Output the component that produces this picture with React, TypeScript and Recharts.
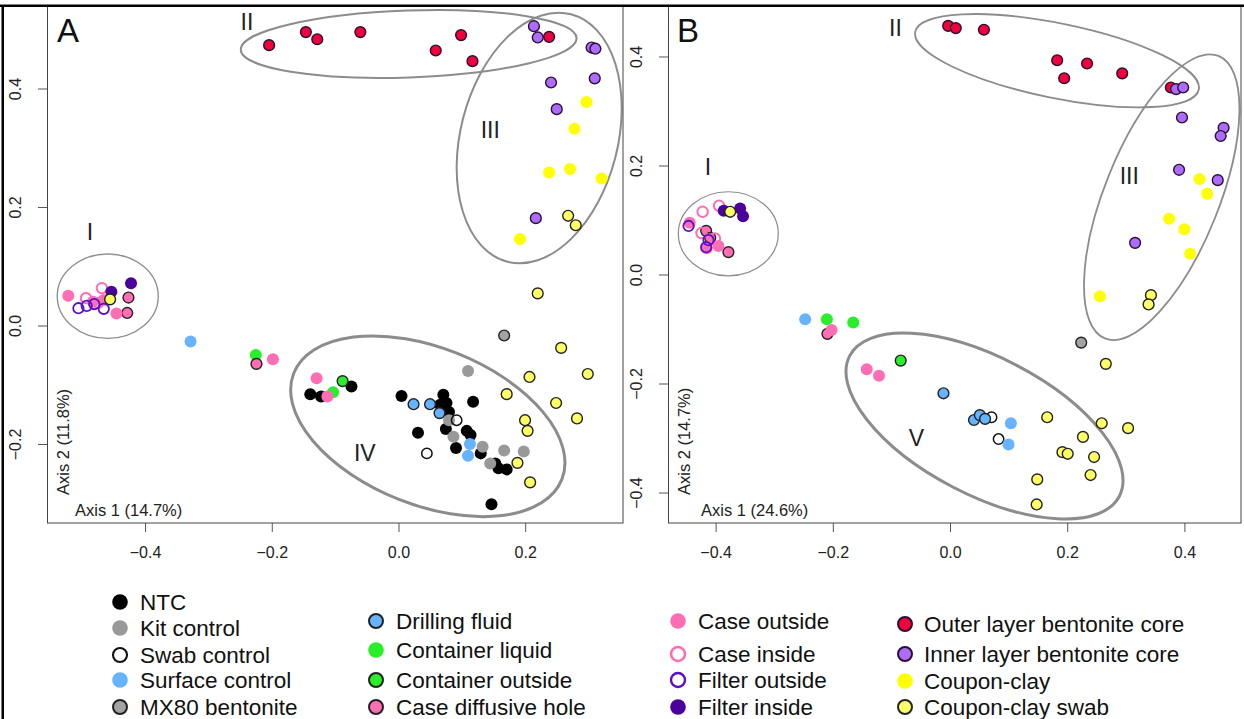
import React from "react";
import { ScatterChart, Scatter, XAxis, YAxis, ReferenceArea, ReferenceDot } from "recharts";

type Pt = [number, number];

// ---- Panel A: PCoA, Axis 1 (14.7%) x Axis 2 (11.8%) ----
const aNTC: Pt[] = [
  [-0.14, -0.115], [-0.123, -0.119], [-0.075, -0.102], [0.004, -0.118], [0.07, -0.116],
  [0.075, -0.13], [0.065, -0.133], [0.079, -0.145], [0.117, -0.128], [0.03, -0.18],
  [0.074, -0.174], [0.107, -0.177], [0.113, -0.184], [0.09, -0.206], [0.129, -0.215],
  [0.152, -0.232], [0.157, -0.24], [0.17, -0.242], [0.146, -0.301],
];
const aKit: Pt[] = [[0.109, -0.076], [0.079, -0.159], [0.086, -0.187], [0.132, -0.204], [0.166, -0.21], [0.197, -0.212], [0.144, -0.232]];
const aSwab: Pt[] = [[0.091, -0.159], [0.044, -0.215]];
const aSurface: Pt[] = [[-0.329, -0.026], [0.112, -0.199], [0.109, -0.219]];
const aMX80: Pt[] = [[0.166, -0.016]];
const aDrilling: Pt[] = [[0.023, -0.132], [0.049, -0.132], [0.064, -0.147]];
const aContLiquid: Pt[] = [[-0.226, -0.049], [-0.104, -0.112]];
const aContOutside: Pt[] = [[-0.089, -0.093]];
const aCaseHole: Pt[] = [[-0.225, -0.064], [-0.427, 0.048], [-0.429, 0.022]];
const aCaseOut: Pt[] = [[-0.199, -0.056], [-0.13, -0.088], [-0.113, -0.119], [-0.522, 0.051], [-0.483, 0.041], [-0.446, 0.021], [-0.466, 0.044]];
const aCaseIn: Pt[] = [[-0.469, 0.064], [-0.494, 0.047], [-0.475, 0.039]];
const aFilterOut: Pt[] = [[-0.506, 0.03], [-0.493, 0.034], [-0.481, 0.037], [-0.466, 0.029]];
const aFilterIn: Pt[] = [[-0.423, 0.072], [-0.454, 0.058]];
const aOuter: Pt[] = [[-0.205, 0.474], [-0.147, 0.496], [-0.129, 0.484], [-0.061, 0.496], [0.058, 0.465], [0.098, 0.491], [0.116, 0.447], [0.237, 0.488]];
const aInner: Pt[] = [[0.213, 0.506], [0.219, 0.487], [0.304, 0.47], [0.31, 0.468], [0.309, 0.418], [0.24, 0.411], [0.249, 0.366], [0.216, 0.182]];
const aCoupon: Pt[] = [[0.296, 0.378], [0.277, 0.333], [0.237, 0.259], [0.27, 0.265], [0.32, 0.249], [0.191, 0.147]];
const aCouponSwab: Pt[] = [
  [0.267, 0.186], [0.279, 0.17], [0.219, 0.055], [0.256, -0.037], [0.206, -0.086], [0.298, -0.081],
  [0.17, -0.115], [0.248, -0.13], [0.281, -0.156], [0.199, -0.159], [0.203, -0.177], [0.187, -0.231],
  [0.207, -0.264], [-0.456, 0.045],
];

// ---- Panel B: PCoA, Axis 1 (24.6%) x Axis 2 (14.7%) ----
const bSwab: Pt[] = [[0.07, -0.261], [0.082, -0.301]];
const bSurface: Pt[] = [[-0.248, -0.081], [0.103, -0.272], [0.099, -0.311]];
const bMX80: Pt[] = [[0.223, -0.124]];
const bDrilling: Pt[] = [[-0.012, -0.217], [0.04, -0.266], [0.05, -0.257], [0.059, -0.264]];
const bContLiquid: Pt[] = [[-0.211, -0.081], [-0.166, -0.087]];
const bContOutside: Pt[] = [[-0.085, -0.157]];
const bCaseHole: Pt[] = [[-0.21, -0.108], [-0.417, 0.081], [-0.41, 0.068], [-0.379, 0.042]];
const bCaseOut: Pt[] = [[-0.203, -0.101], [-0.143, -0.173], [-0.122, -0.185], [-0.445, 0.096], [-0.416, 0.049], [-0.396, 0.053]];
const bCaseIn: Pt[] = [[-0.423, 0.116], [-0.395, 0.127], [-0.425, 0.077], [-0.402, 0.067]];
const bFilterOut: Pt[] = [[-0.447, 0.09], [-0.413, 0.064], [-0.417, 0.051]];
const bFilterIn: Pt[] = [[-0.387, 0.118], [-0.359, 0.122], [-0.354, 0.108]];
const bOuter: Pt[] = [[-0.004, 0.457], [0.009, 0.453], [0.057, 0.45], [0.182, 0.394], [0.194, 0.361], [0.233, 0.388], [0.293, 0.37], [0.376, 0.344]];
const bInner: Pt[] = [[0.385, 0.341], [0.397, 0.344], [0.395, 0.289], [0.466, 0.27], [0.461, 0.255], [0.39, 0.193], [0.456, 0.174], [0.315, 0.059]];
const bCoupon: Pt[] = [[0.425, 0.176], [0.438, 0.149], [0.373, 0.103], [0.399, 0.084], [0.409, 0.039], [0.255, -0.039]];
const bCouponSwab: Pt[] = [
  [0.342, -0.037], [0.338, -0.054], [0.265, -0.163], [0.165, -0.261], [0.258, -0.272], [0.303, -0.281],
  [0.226, -0.297], [0.191, -0.325], [0.2, -0.328], [0.245, -0.334], [0.239, -0.367], [0.148, -0.375],
  [0.147, -0.421], [-0.376, 0.116],
];

const xTicksA = [-0.4, -0.2, 0, 0.2];
const yTicksA = [-0.2, 0, 0.2, 0.4];
const xTicksB = [-0.4, -0.2, 0, 0.2, 0.4];
const yTicksB = [-0.4, -0.2, 0, 0.2, 0.4];

// sample groups, in drawing order
const GROUPS = [
  { key: "ntc", name: "NTC", fill: "#000000", stroke: "none", sw: 0, r: 6 },
  { key: "kit", name: "Kit control", fill: "#999999", stroke: "none", sw: 0, r: 6 },
  { key: "swab", name: "Swab control", fill: "none", stroke: "#111111", sw: 1.5, r: 5.2 },
  { key: "surface", name: "Surface control", fill: "#66b3ff", stroke: "none", sw: 0, r: 6 },
  { key: "mx80", name: "MX80 bentonite", fill: "#a3a3a3", stroke: "#222222", sw: 1.4, r: 5.4 },
  { key: "drilling", name: "Drilling fluid", fill: "#66b3ff", stroke: "#222222", sw: 1.4, r: 5.4 },
  { key: "contLiquid", name: "Container liquid", fill: "#2bee2b", stroke: "none", sw: 0, r: 6 },
  { key: "contOutside", name: "Container outside", fill: "#2bee2b", stroke: "#222222", sw: 1.4, r: 5.4 },
  { key: "caseHole", name: "Case diffusive hole", fill: "#ff6eb4", stroke: "#222222", sw: 1.4, r: 5.4 },
  { key: "caseOut", name: "Case outside", fill: "#ff6eb4", stroke: "none", sw: 0, r: 6 },
  { key: "caseIn", name: "Case inside", fill: "none", stroke: "#ff6eb4", sw: 2, r: 5.2 },
  { key: "filterOut", name: "Filter outside", fill: "none", stroke: "#5a10c8", sw: 1.8, r: 5.2 },
  { key: "filterIn", name: "Filter inside", fill: "#4b0099", stroke: "none", sw: 0, r: 6 },
  { key: "outer", name: "Outer layer bentonite core", fill: "#f0003c", stroke: "#2a1030", sw: 1.4, r: 5.4 },
  { key: "inner", name: "Inner layer bentonite core", fill: "#ad6bff", stroke: "#2a1030", sw: 1.4, r: 5.4 },
  { key: "coupon", name: "Coupon-clay", fill: "#ffff00", stroke: "none", sw: 0, r: 6 },
  { key: "couponSwab", name: "Coupon-clay swab", fill: "#ffff66", stroke: "#222222", sw: 1.4, r: 5.4 },
];

const dataA: Record<string, Pt[]> = {
  ntc: aNTC, kit: aKit, swab: aSwab, surface: aSurface, mx80: aMX80, drilling: aDrilling,
  contLiquid: aContLiquid, contOutside: aContOutside, caseHole: aCaseHole, caseOut: aCaseOut,
  caseIn: aCaseIn, filterOut: aFilterOut, filterIn: aFilterIn, outer: aOuter, inner: aInner,
  coupon: aCoupon, couponSwab: aCouponSwab,
};
const dataB: Record<string, Pt[]> = {
  swab: bSwab, surface: bSurface, mx80: bMX80, drilling: bDrilling, contLiquid: bContLiquid,
  contOutside: bContOutside, caseHole: bCaseHole, caseOut: bCaseOut, caseIn: bCaseIn,
  filterOut: bFilterOut, filterIn: bFilterIn, outer: bOuter, inner: bInner, coupon: bCoupon,
  couponSwab: bCouponSwab,
};

// cluster outlines: centre, half-width, half-height (data units), rotation in degrees, line width
const ellipsesA = [
  { cx: -0.4597, cy: 0.0503, hx: 0.0797, hy: 0.0712, rot: 0, w: 1.3 },
  { cx: 0.0153, cy: 0.476, hx: 0.2652, hy: 0.0565, rot: -2, w: 2 },
  { cx: 0.2213, cy: 0.3173, hx: 0.1241, hy: 0.2157, rot: 14.4, w: 2 },
  { cx: 0.0455, cy: -0.1693, hx: 0.2276, hy: 0.1327, rot: 21.6, w: 3 },
];
const ellipsesB = [
  { cx: -0.3792, cy: 0.0756, hx: 0.0853, hy: 0.0771, rot: 0, w: 1.2 },
  { cx: 0.1817, cy: 0.3932, hx: 0.2469, hy: 0.0686, rot: 11.5, w: 1.8 },
  { cx: 0.3604, cy: 0.1428, hx: 0.0976, hy: 0.2793, rot: 21.9, w: 1.8 },
  { cx: 0.058, cy: -0.2771, hx: 0.2594, hy: 0.1261, rot: 27.5, w: 3 },
];
const labelsA = [
  { t: "I", x: -0.488, y: 0.159 },
  { t: "II", x: -0.24, y: 0.514 },
  { t: "III", x: 0.144, y: 0.332 },
  { t: "IV", x: -0.054, y: -0.214 },
];
const labelsB = [
  { t: "I", x: -0.414, y: 0.199 },
  { t: "II", x: -0.094, y: 0.453 },
  { t: "III", x: 0.305, y: 0.183 },
  { t: "V", x: -0.058, y: -0.298 },
];

const FONT = '"Liberation Sans", Arial, Helvetica, sans-serif';
const fmt = (v: number) => (v < 0 ? "\u2212" : "") + Math.abs(v).toFixed(1);

function XTick(props: any) {
  const { x, y, payload } = props;
  return (
    <text x={x} y={y + 24} textAnchor="middle" fontSize={16} fontFamily={FONT} fill="#222">
      {fmt(payload.value)}
    </text>
  );
}

function YTick(props: any) {
  const { x, y, payload } = props;
  const bx = x - 15;
  return (
    <text x={bx} y={y} transform={`rotate(-90 ${bx} ${y})`} textAnchor="middle" fontSize={16} fontFamily={FONT} fill="#222">
      {fmt(payload.value)}
    </text>
  );
}

const ellipseShape = (rot: number, w: number) => (p: any) => {
  const cx = p.x + p.width / 2;
  const cy = p.y + p.height / 2;
  return (
    <ellipse cx={cx} cy={cy} rx={Math.abs(p.width) / 2} ry={Math.abs(p.height) / 2}
      transform={`rotate(${rot} ${cx} ${cy})`} fill="none" stroke="#8c8c8c" strokeWidth={w} />
  );
};

type PanelProps = {
  data: Record<string, Pt[]>;
  ellipses: typeof ellipsesA;
  labels: typeof labelsA;
  xDomain: [number, number];
  yDomain: [number, number];
  xTicks: number[];
  yTicks: number[];
  left: number;
  width: number;
  margin: { top: number; right: number; bottom: number; left: number };
};

function Panel({ data, ellipses, labels, xDomain, yDomain, xTicks, yTicks, left, width, margin }: PanelProps) {
  return (
    <div style={{ position: "absolute", left, top: 0 }}>
      <ScatterChart width={width} height={580} margin={margin}>
        <XAxis type="number" dataKey="x" domain={xDomain} ticks={xTicks} allowDataOverflow interval={0}
          axisLine={false} tickSize={9} tickLine={{ stroke: "#555" }} tick={<XTick />} height={40} />
        <YAxis type="number" dataKey="y" domain={yDomain} ticks={yTicks} allowDataOverflow interval={0}
          axisLine={false} tickSize={9} tickLine={{ stroke: "#555" }} tick={<YTick />} width={40} />
        {ellipses.map((e, i) => (
          <ReferenceArea key={`e${i}`} x1={e.cx - e.hx} x2={e.cx + e.hx} y1={e.cy - e.hy} y2={e.cy + e.hy}
            ifOverflow="visible" shape={ellipseShape(e.rot, e.w)} />
        ))}
        {labels.map((l) => (
          <ReferenceDot key={l.t} x={l.x} y={l.y} r={0} ifOverflow="visible"
            shape={(p: any) => (
              <text x={p.cx} y={p.cy} dy="0.36em" textAnchor="middle" fontSize={23} fontFamily={FONT} fill="#222">
                {l.t}
              </text>
            )} />
        ))}
        {GROUPS.filter((g) => data[g.key]).map((g) => (
          <Scatter key={g.key} name={g.name} data={data[g.key].map(([x, y]) => ({ x, y }))} isAnimationActive={false}
            shape={(p: any) => (
              <circle cx={p.cx} cy={p.cy} r={g.r} fill={g.fill} stroke={g.stroke} strokeWidth={g.sw} />
            )} />
        ))}
      </ScatterChart>
    </div>
  );
}

const LEGEND_COLS = [
  { mx: 120, tx: 140, items: ["ntc", "kit", "swab", "surface", "mx80"], rows: [602, 628, 655, 680, 707] },
  { mx: 376, tx: 396, items: ["drilling", "contLiquid", "contOutside", "caseHole"], rows: [621, 650, 680, 707] },
  { mx: 678, tx: 698, items: ["caseOut", "caseIn", "filterOut", "filterIn"], rows: [621, 654, 680, 707] },
  { mx: 905, tx: 924, items: ["outer", "inner", "coupon", "couponSwab"], rows: [624, 654, 681, 707] },
];

export default function App() {
  return (
    <div style={{ position: "absolute", left: 0, top: 0, width: 1244, height: 719, background: "#fff", overflow: "hidden", fontFamily: FONT }}>
      <Panel data={dataA} ellipses={ellipsesA} labels={labelsA} xDomain={[-0.5556, 0.3536]} yDomain={[-0.3325, 0.5384]}
        xTicks={xTicksA} yTicks={yTicksA} left={0} width={640} margin={{ top: 7, right: 17, bottom: 17, left: 7 }} />
      <Panel data={dataB} ellipses={ellipsesB} labels={labelsB} xDomain={[-0.4821, 0.4957]} yDomain={[-0.455, 0.4917]}
        xTicks={xTicksB} yTicks={yTicksB} left={620} width={624} margin={{ top: 7, right: 3, bottom: 17, left: 8 }} />
      <svg width={1244} height={719} style={{ position: "absolute", left: 0, top: 0, pointerEvents: "none" }}>
        <rect x={47.5} y={6.5} width={575.5} height={516.5} fill="none" stroke="#444" strokeWidth={1} />
        <rect x={668.5} y={6.5} width={572.5} height={516.5} fill="none" stroke="#444" strokeWidth={1} />
        <rect x={0} y={4.5} width={1244} height={2.5} fill="#000" />
        <rect x={1.5} y={5} width={2.5} height={714} fill="#000" />
        <text x={57} y={41.7} fontSize={33} fontFamily={FONT} fill="#111">A</text>
        <text x={677} y={41.7} fontSize={33} fontFamily={FONT} fill="#111">B</text>
        <text x={75} y={516} fontSize={16.5} fontFamily={FONT} fill="#222">Axis 1 (14.7%)</text>
        <text x={701} y={516} fontSize={16.5} fontFamily={FONT} fill="#222">Axis 1 (24.6%)</text>
        <text transform="translate(68.5 495) rotate(-90)" fontSize={16.5} fontFamily={FONT} fill="#222">Axis 2 (11.8%)</text>
        <text transform="translate(689.5 495) rotate(-90)" fontSize={16.5} fontFamily={FONT} fill="#222">Axis 2 (14.7%)</text>
        {LEGEND_COLS.map((col) =>
          col.items.map((k, i) => {
            const g = GROUPS.find((gg) => gg.key === k)!;
            const y = col.rows[i];
            return (
              <g key={k}>
                <circle cx={col.mx} cy={y} r={g.stroke === "none" ? 7.8 : 7} fill={g.fill}
                  stroke={g.stroke} strokeWidth={g.sw ? g.sw + 0.6 : 0} />
                <text x={col.tx} y={y + 8} fontSize={22.5} fontFamily={FONT} fill="#111">{g.name}</text>
              </g>
            );
          })
        )}
      </svg>
    </div>
  );
}
